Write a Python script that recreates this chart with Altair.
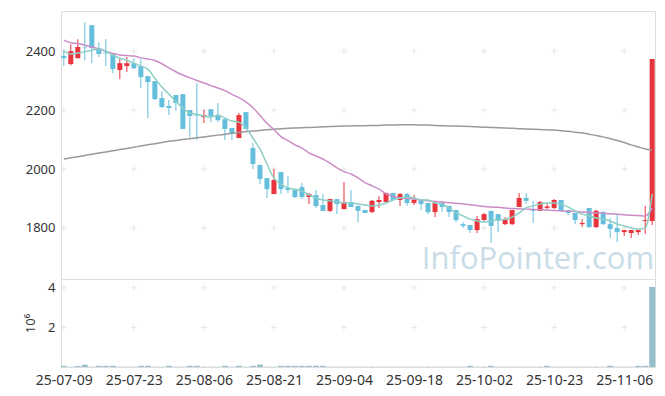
import altair as alt
import pandas as pd
import itertools

dates = ["25-07-09","25-07-10","25-07-11","25-07-14","25-07-15","25-07-16","25-07-17","25-07-18","25-07-21","25-07-22",
         "25-07-23","25-07-24","25-07-25","25-07-28","25-07-29","25-07-30","25-07-31","25-08-01","25-08-04","25-08-05",
         "25-08-06","25-08-07","25-08-08","25-08-11","25-08-12","25-08-13","25-08-14","25-08-18","25-08-19","25-08-20",
         "25-08-21","25-08-22","25-08-25","25-08-26","25-08-27","25-08-28","25-08-29","25-09-01","25-09-02","25-09-03",
         "25-09-04","25-09-05","25-09-08","25-09-09","25-09-10","25-09-11","25-09-12","25-09-15","25-09-16","25-09-17",
         "25-09-18","25-09-19","25-09-22","25-09-23","25-09-24","25-09-25","25-09-26","25-09-29","25-09-30","25-10-01",
         "25-10-02","25-10-10","25-10-13","25-10-14","25-10-15","25-10-16","25-10-17","25-10-20","25-10-21","25-10-22",
         "25-10-23","25-10-24","25-10-27","25-10-28","25-10-29","25-10-30","25-10-31","25-11-03","25-11-04","25-11-05",
         "25-11-06","25-11-07","25-11-10","25-11-11","25-11-12"]

opens = [2383,2356,2376,2412,2488,2410,2395,2390,2336,2349,
         2359,2349,2315,2298,2241,2214,2251,2254,2200,2182,
         2176,2203,2183,2169,2139,2105,2193,2071,2014,1969,
         1915,1990,1936,1929,1939,1905,1912,1878,1858,1898,
         1864,1888,1875,1861,1854,1888,1888,1919,1895,1915,
         1885,1895,1885,1854,1885,1875,1861,1813,1810,1793,
         1827,1858,1847,1813,1813,1871,1902,1864,1858,1868,
         1868,1895,1861,1851,1813,1868,1803,1854,1813,1800,
         1786,1783,1786,1824,1824]
highs = [2403,2423,2440,2498,2488,2430,2441,2390,2373,2380,
         2376,2373,2315,2298,2264,2234,2251,2254,2200,2292,
         2200,2203,2224,2169,2139,2190,2193,2088,2014,1969,
         2000,1990,1976,1929,1953,1919,1929,1915,1898,1898,
         1956,1929,1875,1861,1895,1908,1919,1919,1919,1919,
         1912,1895,1885,1892,1892,1875,1861,1820,1810,1841,
         1851,1858,1847,1837,1861,1919,1919,1892,1892,1885,
         1898,1895,1861,1851,1830,1868,1861,1858,1834,1844,
         1793,1793,1793,1875,2373]
lows = [2350,2352,2376,2369,2359,2380,2349,2325,2305,2329,
        2339,2275,2173,2234,2207,2183,2197,2136,2108,2098,
        2156,2159,2159,2098,2098,2105,2136,2000,1949,1902,
        1915,1915,1919,1902,1898,1881,1868,1858,1854,1847,
        1864,1871,1820,1851,1851,1868,1888,1895,1875,1875,
        1878,1861,1847,1837,1854,1837,1820,1800,1783,1783,
        1824,1749,1786,1810,1810,1871,1881,1817,1858,1864,
        1864,1858,1844,1813,1803,1800,1800,1810,1766,1752,
        1773,1766,1776,1780,1810]
closes = [2376,2400,2414,2410,2410,2390,2392,2339,2359,2359,
          2342,2312,2295,2237,2210,2207,2224,2136,2180,2180,
          2183,2180,2166,2136,2119,2183,2136,2017,1966,1932,
          1963,1932,1929,1905,1905,1915,1875,1858,1898,1881,
          1888,1871,1858,1851,1892,1895,1919,1895,1915,1885,
          1895,1881,1854,1885,1871,1854,1827,1807,1793,1830,
          1847,1807,1824,1830,1861,1902,1892,1858,1888,1873,
          1895,1858,1851,1827,1817,1803,1858,1813,1797,1786,
          1793,1793,1793,1827,2373]

ma5 = [2400,2390,2393,2398,2403,2407,2400,2386,2376,2369,
       2359,2349,2339,2308,2278,2254,2230,2207,2190,2186,
       2180,2176,2183,2173,2163,2159,2139,2105,2068,2017,
       1969,1949,1936,1932,1925,1912,1902,1895,1892,1888,
       1885,1885,1881,1878,1875,1878,1885,1895,1902,1905,
       1902,1895,1895,1885,1881,1868,1851,1841,1830,1824,
       1820,1824,1827,1830,1837,1851,1868,1875,1881,1885,
       1885,1881,1871,1858,1847,1841,1834,1830,1824,1813,
       1807,1800,1797,1800,1915]
ma20 = [2437,2428,2426,2420,2414,2407,2400,2392,2387,2385,
        2383,2377,2373,2368,2357,2343,2330,2319,2309,2300,
        2292,2283,2275,2266,2253,2242,2228,2208,2182,2155,
        2134,2110,2096,2082,2071,2055,2044,2034,2020,2004,
        1991,1983,1970,1954,1943,1932,1916,1908,1902,1901,
        1898,1895,1892,1890,1888,1886,1884,1882,1879,1876,
        1873,1871,1870,1868,1866,1865,1864,1863,1862,1861,
        1859,1858,1857,1856,1854,1853,1851,1850,1848,1847,
        1845,1843,1842,1841,1867]
ma120 = [2034,2038,2042,2046,2050,2054,2058,2062,2066,2070,
         2074,2078,2082,2086,2090,2094,2097,2100,2103,2106,
         2109,2112,2115,2118,2121,2124,2127,2129,2131,2133,
         2135,2137,2138,2139,2140,2141,2142,2143,2144,2145,
         2146,2146,2147,2147,2148,2148,2149,2149,2150,2150,
         2150,2149,2149,2148,2147,2146,2146,2145,2144,2143,
         2142,2141,2140,2139,2138,2137,2136,2135,2134,2133,
         2132,2130,2128,2125,2122,2118,2114,2109,2103,2097,
         2090,2082,2075,2068,2064]
volume_m = [0.06,0.015,0.05,0.12,0.015,0.06,0.06,0.06,0.015,0.015,
            0.015,0.06,0.06,0.015,0.015,0.06,0.015,0.015,0.06,0.06,
            0.015,0.015,0.015,0.06,0.015,0.06,0.015,0.06,0.12,0.015,
            0.015,0.06,0.06,0.06,0.06,0.06,0.06,0.06,0.015,0.015,
            0.015,0.015,0.015,0.015,0.015,0.015,0.015,0.015,0.015,0.015,
            0.015,0.015,0.015,0.015,0.015,0.015,0.015,0.015,0.06,0.015,
            0.015,0.06,0.015,0.015,0.015,0.015,0.015,0.015,0.015,0.06,
            0.015,0.015,0.015,0.015,0.015,0.015,0.015,0.015,0.06,0.015,
            0.015,0.015,0.06,0.06,4.05]

x_tick_labels = ["25-07-09","25-07-23","25-08-06","25-08-21","25-09-04","25-09-18","25-10-02","25-10-23","25-11-06"]
y_ticks = [1800, 2000, 2200, 2400]
vol_ticks = [2, 4]

UP, DOWN = "#e8343c", "#65bedb"
FONT = "Noto Sans"

df = pd.DataFrame({"date": dates, "open": opens, "high": highs, "low": lows, "close": closes,
                   "ma5": ma5, "ma20": ma20, "ma120": ma120, "vol": volume_m})
df["dir"] = ["up" if c >= o else "down" for o, c in zip(opens, closes)]

grid_price = pd.DataFrame(list(itertools.product(x_tick_labels, y_ticks)), columns=["date", "v"])
grid_vol = pd.DataFrame(list(itertools.product(x_tick_labels, vol_ticks)), columns=["date", "v"])

xscale = alt.Scale(type="point", padding=0.4, domain=dates)
yscale = alt.Scale(domain=[1627, 2536], nice=False, zero=False)
vscale = alt.Scale(domain=[0, 4.45], nice=False)
color = alt.Color("dir:N", scale=alt.Scale(domain=["up", "down"], range=[UP, DOWN]), legend=None)
cross = "M-1,0H1M0,-1V1"

price_x = alt.X("date:O", scale=xscale, title=None, axis=None)
price_y_axis = alt.Axis(values=y_ticks, title=None, grid=False, ticks=False, domain=False, format="d",
                        labelFontSize=13, labelColor="#333", labelPadding=6, labelFont=FONT)

base = alt.Chart(df)

crosses = alt.Chart(grid_price).mark_point(shape=cross, size=36, filled=False, strokeWidth=1, color="#dcdcdc").encode(
    x=price_x, y=alt.Y("v:Q", scale=yscale, axis=price_y_axis, title=None))

wicks = base.mark_rule(strokeWidth=1).encode(
    x="date:O", y=alt.Y("low:Q"), y2="high:Q", color=color)
bodies = base.mark_bar(width=5).encode(x="date:O", y=alt.Y("open:Q"), y2="close:Q", color=color)

def ma_line(field, col):
    return base.mark_line(color=col, strokeWidth=1.5, interpolate="monotone").encode(
        x="date:O", y=alt.Y(f"{field}:Q"))

watermark = alt.Chart(pd.DataFrame({"t": ["InfoPointer.com"]})).mark_text(
    font="Open Sans", fontSize=31, color="#c9dce7", align="center", baseline="alphabetic").encode(
    text="t:N", x=alt.value(477), y=alt.value(258))

price = alt.layer(crosses, watermark, wicks, bodies,
                  ma_line("ma120", "#9a9a9a"), ma_line("ma20", "#cc8cc6"), ma_line("ma5", "#8ccfc4")
                  ).properties(width=594, height=268)

vcross = alt.Chart(grid_vol).mark_point(shape=cross, size=36, filled=False, strokeWidth=1, color="#dcdcdc").encode(
    x=alt.X("date:O", scale=xscale, title=None,
            axis=alt.Axis(values=x_tick_labels, labelAngle=0, ticks=False, domain=False, grid=False,
                          labelFontSize=14, labelColor="#333", labelPadding=6, labelFont=FONT)),
    y=alt.Y("v:Q", scale=vscale, title="10⁶",
            axis=alt.Axis(values=vol_ticks, grid=False, ticks=False, domain=False,
                          labelFontSize=13, labelColor="#333", labelPadding=6, labelFont=FONT,
                          titleFontSize=13, titleFontWeight="normal", titleColor="#333", titleFont=FONT,
                          titlePadding=10)))
vbars = base.mark_bar(width=6, color="#95bfcd").encode(x="date:O", y="vol:Q")
volume = alt.layer(vcross, vbars).properties(width=594, height=88)

chart = alt.vconcat(price, volume, spacing=0, bounds="flush").properties(
    padding={"left": 16, "top": 2, "right": 1, "bottom": 0}
).configure_view(stroke="#e3e3e3").configure(background="white")

chart.save("out.html", embed_options={"renderer": "svg", "actions": False})
